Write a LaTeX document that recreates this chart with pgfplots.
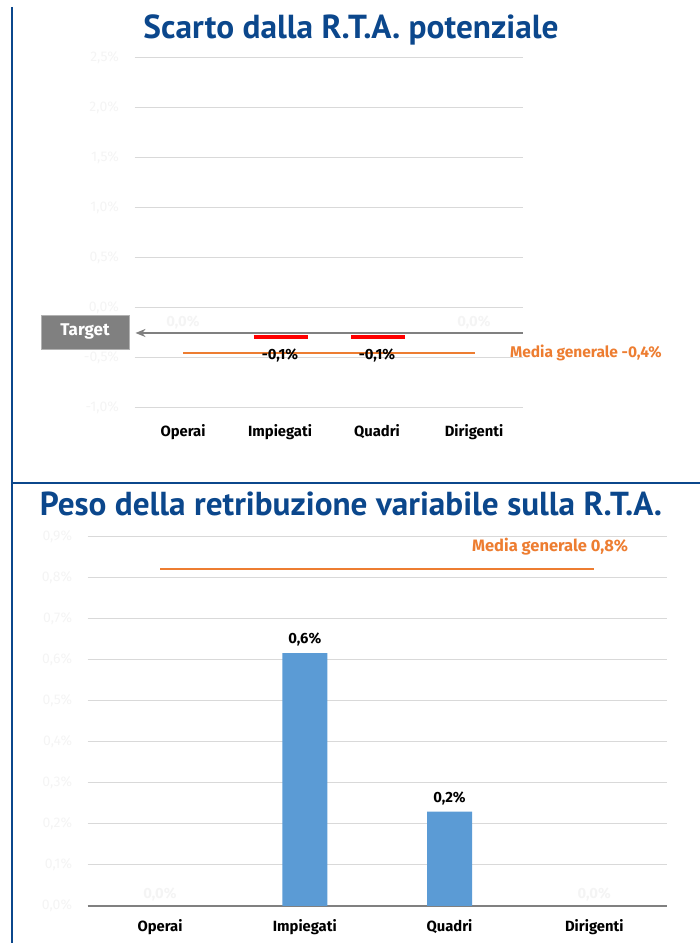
\documentclass[border=0pt]{standalone}
\usepackage{fontspec}
\setmainfont{Fira Sans}
\newfontfamily\ptsans{PT Sans}
\usepackage{pgfplots}
\pgfplotsset{compat=1.18}
\usetikzlibrary{arrows.meta}
\definecolor{tblue}{RGB}{11,71,140}
\definecolor{morange}{RGB}{237,125,49}
\definecolor{barblue}{RGB}{91,155,213}
\definecolor{gridc}{RGB}{217,217,217}
\definecolor{tgray}{RGB}{128,128,128}
\definecolor{faint}{RGB}{244,244,244}
\newcommand{\lab}{\fontsize{14.8bp}{17bp}\selectfont\bfseries}
\begin{document}
\begin{tikzpicture}
% ---------- top chart ----------
\begin{scope}[shift={(183bp,635bp)}]
\begin{axis}[
  anchor=origin, at={(0,0)}, scale only axis,
  width=388bp, height=350bp,
  xmin=-0.5, xmax=3.5, ymin=-1, ymax=2.5,
  clip=false,
  axis line style={draw=none}, tick style={draw=none},
  ymajorgrids, grid style={gridc, line width=1bp},
  ytick={-1,-0.5,0,0.5,1,1.5,2,2.5},
  yticklabels={{-1,0\%},{-0,5\%},{0,0\%},{0,5\%},{1,0\%},{1,5\%},{2,0\%},{2,5\%}},
  yticklabel style={faint, font=\fontsize{14bp}{16bp}\selectfont, anchor=east, xshift=-12bp},
  xtick={0,1,2,3},
  xticklabels={Operai,Impiegati,Quadri,Dirigenti},
  xticklabel style={font=\lab, anchor=base, yshift=-29bp},
]
\addplot[tgray, line width=2.5bp, -{Stealth[length=10bp,width=8bp]}] coordinates {(3.5,-0.25) (-0.49,-0.25)};
\addplot[red, line width=4bp] coordinates {(0.73,-0.29) (1.29,-0.29)};
\addplot[red, line width=4bp] coordinates {(1.73,-0.29) (2.29,-0.29)};
\addplot[morange, line width=1.8bp] coordinates {(0,-0.45) (3.01,-0.45)};
\node[font=\lab] at (axis cs:1,-0.47) {-0,1\%};
\node[font=\lab] at (axis cs:2,-0.47) {-0,1\%};
\node[faint, font=\lab] at (axis cs:0,-0.14) {0,0\%};
\node[faint, font=\lab] at (axis cs:3,-0.14) {0,0\%};
\node[morange, font=\fontsize{15.5bp}{18bp}\selectfont\bfseries, anchor=west, inner sep=0] at (axis cs:3.37,-0.45) {Media generale -0,4\%};
\end{axis}
\end{scope}

% ---------- bottom chart ----------
\begin{scope}[shift={(160bp,37bp)}]
\begin{axis}[
  anchor=origin, at={(0,0)}, scale only axis,
  width=579bp, height=369bp,
  xmin=-0.5, xmax=3.5, ymin=0, ymax=0.9,
  clip=false,
  axis line style={draw=none}, tick style={draw=none},
  ymajorgrids, grid style={gridc, line width=1bp},
  ytick={0.1,0.2,0.3,0.4,0.5,0.6,0.7,0.8,0.9},
  yticklabels={{0,1\%},{0,2\%},{0,3\%},{0,4\%},{0,5\%},{0,6\%},{0,7\%},{0,8\%},{0,9\%}},
  extra y ticks={0},
  extra y tick labels={0{,}0\%},
  extra y tick style={grid style={tgray, line width=2bp}},
  yticklabel style={faint, font=\fontsize{14bp}{16bp}\selectfont, anchor=east, xshift=-12bp},
  xtick={0,1,2,3},
  xticklabels={Operai,Impiegati,Quadri,Dirigenti},
  xticklabel style={font=\lab, anchor=base, yshift=-26bp},
]
\addplot[ybar, bar width=45bp, fill=barblue, draw=none] coordinates {(1,0.617) (2,0.23)};
\addplot[morange, line width=2bp] coordinates {(0,0.822) (3,0.822)};
\node[font=\lab] at (axis cs:1,0.649) {0,6\%};
\node[font=\lab] at (axis cs:2,0.263) {0,2\%};
\node[faint, font=\lab] at (axis cs:0,0.029) {0,0\%};
\node[faint, font=\lab] at (axis cs:3,0.029) {0,0\%};
\node[morange, font=\fontsize{16.5bp}{19bp}\selectfont\bfseries, anchor=west, inner sep=0] at (axis cs:2.155,0.876) {Media generale 0,8\%};
\end{axis}
\end{scope}

\begin{scope}[x=1bp,y=1bp]
% frame lines
\draw[tblue, line width=2.5bp] (12,936) -- (12,0);
\draw[tblue, line width=2.5bp] (12,460) -- (700,460);
% titles
\node[tblue, inner sep=0] at (351,913) {\resizebox{415bp}{!}{\ptsans\bfseries Scarto dalla R.T.A. potenziale}};
\node[tblue, inner sep=0] at (351,439) {\resizebox{622bp}{!}{\ptsans\bfseries Peso della retribuzione variabile sulla R.T.A.}};
% Target box
\node[fill=tgray, draw=gray!60, text=white, minimum width=88bp, minimum height=34bp, inner sep=0] at (85,611) {\fontsize{17bp}{19bp}\selectfont\bfseries Target};
\pgfresetboundingbox
\useasboundingbox (0,0) rectangle (700,943);
\end{scope}
\end{tikzpicture}
\end{document}
